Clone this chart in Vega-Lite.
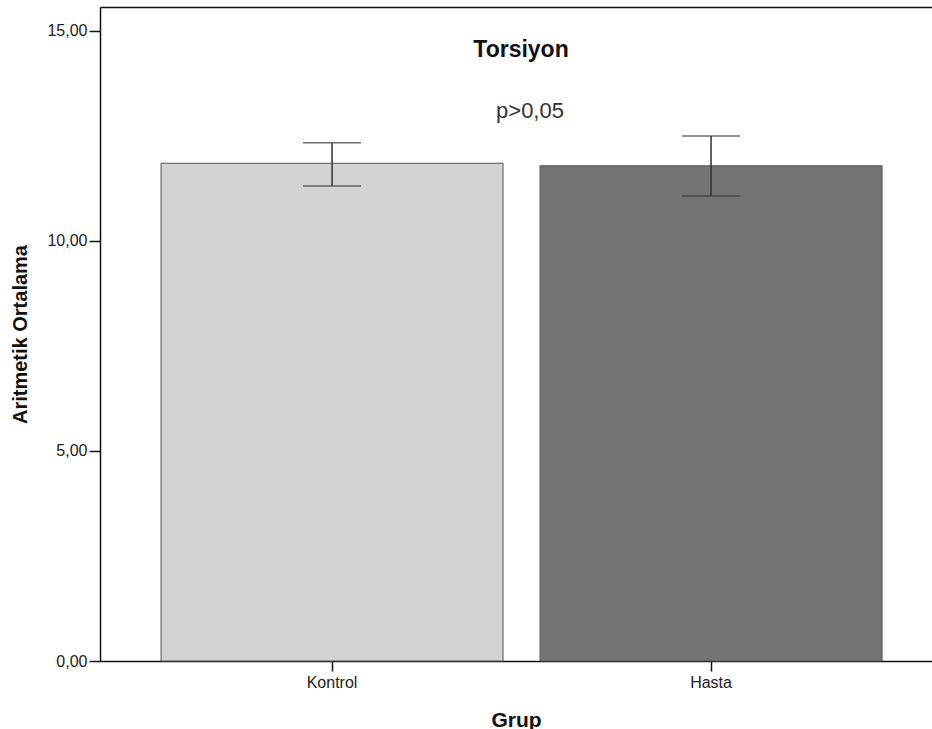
{
  "$schema": "https://vega.github.io/schema/vega-lite/v6.json",
  "width": 832,
  "height": 654,
  "autosize": {"type": "none"},
  "padding": {"left": 100, "top": 7, "right": 0, "bottom": 68},
  "background": "white",
  "config": {
    "font": "Liberation Sans",
    "view": {"stroke": null},
    "axis": {"grid": false, "domainColor": "#111", "domainWidth": 1.5, "tickColor": "#111", "tickWidth": 1.5, "labelColor": "#222", "titleColor": "#111"}
  },
  "data": {"values": [
    {"Grup": "Kontrol", "mean": 11.85, "lo": 11.31, "hi": 12.34},
    {"Grup": "Hasta", "mean": 11.79, "lo": 11.07, "hi": 12.5}
  ]},
  "resolve": {"axis": {"x": "independent"}},
  "layer": [
    {
      "mark": {"type": "bar", "stroke": "#555", "strokeWidth": 1},
      "encoding": {
        "x": {"field": "Grup", "type": "nominal", "sort": ["Kontrol", "Hasta"],
              "scale": {"paddingInner": 0.0976, "paddingOuter": 0.1464, "align": 0.55},
              "axis": {"labelAngle": 0, "labelFontSize": 16, "tickSize": 10, "labelPadding": 3, "title": "Grup", "titleFontSize": 21, "titleFontWeight": "bold", "titlePadding": 19}},
        "y": {"field": "mean", "type": "quantitative", "title": "Aritmetik Ortalama",
              "scale": {"domain": [0, 15.57], "nice": false, "zero": true},
              "axis": {"values": [0, 5, 10, 15], "labelExpr": "replace(format(datum.value, '.2f'), '.', ',')", "labelFontSize": 16, "tickSize": 11, "labelPadding": 2, "titleFontSize": 20, "titleFontWeight": "bold", "titlePadding": 16}},
        "color": {"field": "Grup", "type": "nominal", "scale": {"domain": ["Kontrol", "Hasta"], "range": ["#d2d2d2", "#747474"]}, "legend": null}
      }
    },
    {
      "mark": {"type": "rule", "color": "#333", "strokeWidth": 1.5},
      "encoding": {
        "x": {"field": "Grup", "type": "nominal", "sort": ["Kontrol", "Hasta"],
              "axis": {"orient": "top", "labels": false, "ticks": false, "title": null, "domain": true}},
        "y": {"field": "lo", "type": "quantitative", "title": "Aritmetik Ortalama"},
        "y2": {"field": "hi"}
      }
    },
    {
      "mark": {"type": "tick", "color": "#333", "thickness": 1.5, "size": 58},
      "encoding": {
        "x": {"field": "Grup", "type": "nominal", "sort": ["Kontrol", "Hasta"], "axis": null},
        "y": {"field": "lo", "type": "quantitative", "title": "Aritmetik Ortalama"}
      }
    },
    {
      "mark": {"type": "tick", "color": "#333", "thickness": 1.5, "size": 58},
      "encoding": {
        "x": {"field": "Grup", "type": "nominal", "sort": ["Kontrol", "Hasta"], "axis": null},
        "y": {"field": "hi", "type": "quantitative", "title": "Aritmetik Ortalama"}
      }
    },
    {
      "data": {"values": [{"label": "Torsiyon"}]},
      "mark": {"type": "text", "fontSize": 23, "fontWeight": "bold", "color": "#111", "baseline": "alphabetic", "align": "center", "dx": 5},
      "encoding": {
        "y": {"datum": 14.38, "type": "quantitative", "title": "Aritmetik Ortalama"},
        "text": {"field": "label"}
      }
    },
    {
      "data": {"values": [{"label": "p>0,05"}]},
      "mark": {"type": "text", "fontSize": 22, "color": "#333", "baseline": "alphabetic", "align": "center", "dx": 14},
      "encoding": {
        "y": {"datum": 12.93, "type": "quantitative", "title": "Aritmetik Ortalama"},
        "text": {"field": "label"}
      }
    }
  ]
}
